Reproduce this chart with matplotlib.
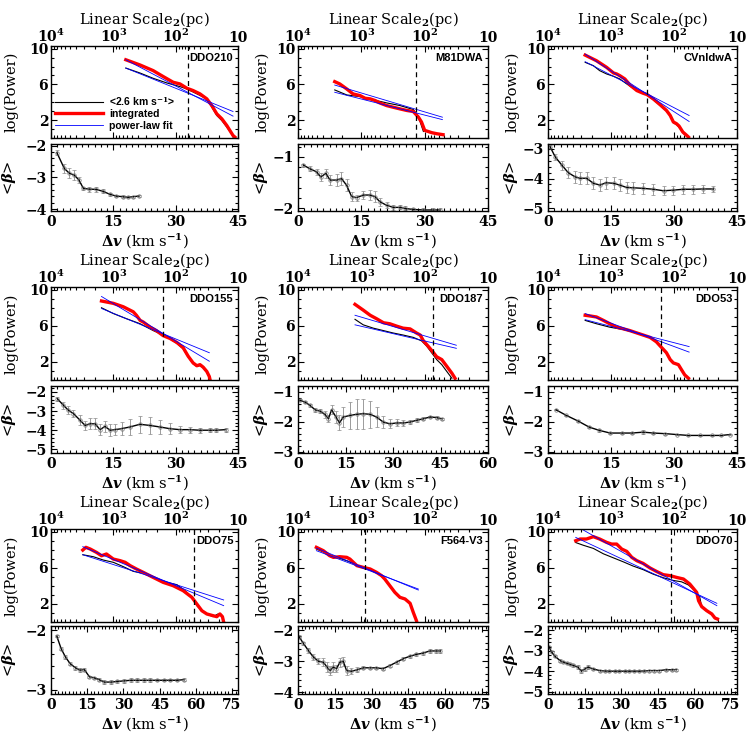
import numpy as np
import matplotlib
matplotlib.use('Agg')
import matplotlib.pyplot as plt
from matplotlib.lines import Line2D
from matplotlib.ticker import (MultipleLocator, AutoMinorLocator, FixedLocator,
                               FixedFormatter, LogLocator, NullFormatter)

plt.rcParams['font.family'] = 'DejaVu Serif'
plt.rcParams['font.weight'] = 'bold'
plt.rcParams['mathtext.fontset'] = 'custom'
plt.rcParams['mathtext.rm'] = 'DejaVu Serif:bold'
plt.rcParams['mathtext.it'] = 'DejaVu Serif:italic:bold'
plt.rcParams['mathtext.bf'] = 'DejaVu Serif:bold'
plt.rcParams['axes.linewidth'] = 1.0

# ---- data: top panels are log10(linear scale / pc) vs log(Power) ----
# DDO210
ddo210_red_lg = [2.80, 2.57, 2.36, 2.20, 2.04, 1.93, 1.82, 1.72, 1.61, 1.50, 1.42, 1.34, 1.26, 1.18, 1.13, 1.08, 1.05]
ddo210_red_p = [8.76, 8.17, 7.54, 6.88, 6.24, 6.05, 5.57, 5.31, 4.94, 4.38, 3.63, 2.70, 2.15, 1.40, 0.84, 0.28, 0.10]
ddo210_blk_lg = [2.80, 2.57, 2.36, 2.14, 1.93, 1.82, 1.66, 1.50, 1.42, 1.34, 1.26, 1.18, 1.10, 1.08]
ddo210_blk_p = [7.83, 7.27, 6.68, 6.16, 5.75, 5.49, 4.94, 4.38, 3.45, 2.52, 1.96, 1.22, 0.47, 0.10]
ddo210_fit_lg = [2.80, 1.08]
ddo210_fit_red = [8.76, 2.45]
ddo210_fit_blk = [7.83, 2.97]
ddo210_dash = 1.80
ddo210_dv = [1.4, 3.2, 4.4, 5.6, 6.7, 7.8, 9.2, 10.9, 12.5, 14.1, 15.7, 17.3, 18.5, 19.7, 21.1]
ddo210_beta = [-2.22, -2.72, -2.87, -2.93, -3.08, -3.35, -3.37, -3.38, -3.44, -3.53, -3.59, -3.61, -3.63, -3.61, -3.59]
ddo210_err = [0.08, 0.15, 0.15, 0.15, 0.10, 0.06, 0.08, 0.08, 0.06, 0.05, 0.04, 0.04, 0.03, 0.03, 0.02]

# M81DWA
m81dwa_red_lg = [3.42, 3.34, 3.23, 3.13, 3.02, 2.94, 2.86, 2.78, 2.71, 2.60, 2.50, 2.39, 2.28, 2.18, 2.10, 2.05, 2.00, 1.89, 1.81, 1.71]
m81dwa_red_p = [6.31, 6.05, 5.49, 4.93, 4.75, 4.45, 4.38, 4.19, 3.93, 3.63, 3.45, 3.26, 3.08, 2.97, 2.35, 1.79, 0.86, 0.60, 0.48, 0.37]
m81dwa_blk_lg = [3.42, 3.23, 3.02, 2.81, 2.60, 2.39, 2.18, 2.13, 2.07, 2.02]
m81dwa_blk_p = [5.38, 4.82, 4.63, 4.27, 3.93, 3.63, 3.19, 2.70, 1.78, 0.73]
m81dwa_fit_lg = [3.42, 1.72]
m81dwa_fit_red = [5.93, 2.33]
m81dwa_fit_blk = [5.12, 2.06]
m81dwa_dash = 2.13
m81dwa_dv = [1.3, 2.8, 4.4, 5.4, 6.6, 7.6, 9.2, 10.3, 11.5, 12.7, 13.9, 15.5, 17.0, 18.2, 19.4, 21.0, 22.6, 24.2, 25.3, 27.3, 29.7, 32.0, 33.6]
m81dwa_beta = [-1.16, -1.23, -1.29, -1.39, -1.32, -1.45, -1.45, -1.42, -1.55, -1.77, -1.79, -1.74, -1.74, -1.77, -1.87, -1.94, -1.98, -1.98, -2.00, -2.02, -2.03, -2.03, -2.03]
m81dwa_err = [0.03, 0.05, 0.06, 0.08, 0.08, 0.10, 0.12, 0.12, 0.12, 0.08, 0.06, 0.08, 0.10, 0.10, 0.08, 0.06, 0.05, 0.04, 0.04, 0.03, 0.03, 0.03, 0.03]

# CVnIdwA
cvn_red_lg = [3.41, 3.23, 3.07, 2.96, 2.91, 2.86, 2.78, 2.70, 2.59, 2.49, 2.43, 2.33, 2.22, 2.12, 2.06, 2.01, 1.96, 1.92, 1.86, 1.80, 1.77]
cvn_red_p = [9.28, 8.65, 7.91, 7.28, 7.17, 6.98, 6.61, 5.94, 5.31, 5.01, 4.87, 4.38, 3.72, 3.09, 2.52, 1.79, 1.60, 1.34, 0.67, 0.30, 0.10]
cvn_blk_lg = [3.41, 3.28, 3.18, 3.07, 2.96, 2.86, 2.75, 2.65, 2.54, 2.43, 2.33, 2.22, 2.12, 2.06, 2.01, 1.96, 1.90, 1.85, 1.80]
cvn_blk_p = [8.47, 8.10, 7.54, 7.17, 6.91, 6.61, 6.05, 5.57, 5.19, 4.87, 4.30, 3.65, 3.02, 2.45, 1.72, 1.50, 1.05, 0.50, 0.22]
cvn_fit_lg = [3.41, 1.76]
cvn_fit_red = [9.39, 1.85]
cvn_fit_blk = [8.54, 2.52]
cvn_dash = 2.43
cvn_dv = [0.5, 1.7, 3.3, 4.8, 6.4, 7.6, 9.2, 10.8, 12.4, 13.8, 15.6, 17.1, 18.7, 20.3, 22.7, 25.1, 27.5, 29.8, 32.2, 34.6, 37.0, 39.4]
cvn_beta = [-2.93, -3.27, -3.55, -3.80, -3.94, -3.99, -3.99, -4.16, -4.22, -4.14, -4.16, -4.22, -4.30, -4.31, -4.33, -4.36, -4.41, -4.39, -4.36, -4.36, -4.35, -4.35]
cvn_err = [0.05, 0.10, 0.15, 0.18, 0.20, 0.20, 0.20, 0.20, 0.20, 0.20, 0.20, 0.20, 0.20, 0.20, 0.18, 0.18, 0.15, 0.15, 0.15, 0.15, 0.12, 0.10]

# DDO155
ddo155_red_lg = [3.19, 3.00, 2.84, 2.68, 2.63, 2.57, 2.52, 2.41, 2.31, 2.20, 2.09, 1.98, 1.88, 1.80, 1.72, 1.66, 1.61, 1.56, 1.50, 1.46, 1.45]
ddo155_red_p = [8.75, 8.49, 8.11, 7.55, 7.17, 6.60, 6.42, 5.85, 5.47, 4.91, 4.60, 4.15, 3.58, 2.64, 1.89, 1.58, 1.70, 1.43, 0.94, 0.38, 0.08]
ddo155_blk_lg = [3.19, 3.00, 2.79, 2.57, 2.36, 2.20, 2.09, 1.98, 1.88, 1.80, 1.72, 1.66, 1.61, 1.56, 1.50, 1.46]
ddo155_blk_p = [8.00, 7.36, 6.79, 6.23, 5.47, 4.98, 4.55, 4.05, 3.45, 2.55, 1.80, 1.50, 1.60, 1.35, 0.85, 0.30]
ddo155_fit_lg = [3.19, 1.46]
ddo155_fit_red = [9.25, 2.08]
ddo155_fit_blk = [7.92, 3.02]
ddo155_dash = 2.21
ddo155_dv = [1.5, 3.0, 4.2, 5.4, 7.0, 8.2, 9.4, 10.6, 11.8, 13.0, 14.2, 15.4, 17.0, 19.0, 21.4, 23.8, 26.2, 28.6, 31.0, 33.4, 35.8, 38.2, 39.8, 42.0]
ddo155_beta = [-2.35, -2.70, -2.96, -3.13, -3.48, -3.75, -3.66, -3.66, -3.97, -3.80, -4.00, -3.97, -3.92, -3.83, -3.69, -3.75, -3.83, -3.92, -3.97, -3.97, -4.00, -4.00, -4.00, -3.97]
ddo155_err = [0.10, 0.20, 0.20, 0.20, 0.25, 0.25, 0.30, 0.30, 0.30, 0.30, 0.30, 0.30, 0.35, 0.40, 0.45, 0.45, 0.35, 0.30, 0.20, 0.15, 0.12, 0.10, 0.10, 0.10]

# DDO187
ddo187_red_lg = [3.10, 2.97, 2.86, 2.76, 2.65, 2.55, 2.44, 2.34, 2.23, 2.13, 2.07, 2.02, 1.94, 1.86, 1.81, 1.73, 1.65, 1.57, 1.52]
ddo187_red_p = [8.38, 7.74, 7.17, 6.79, 6.34, 6.23, 5.96, 5.74, 5.66, 5.21, 4.98, 4.34, 3.70, 3.02, 2.57, 2.26, 1.51, 0.75, 0.19]
ddo187_blk_lg = [3.10, 2.97, 2.81, 2.65, 2.50, 2.34, 2.18, 2.05, 1.97, 1.89, 1.81, 1.73, 1.65, 1.57]
ddo187_blk_p = [6.72, 6.11, 5.74, 5.47, 5.21, 4.98, 4.72, 4.34, 3.77, 3.02, 2.26, 1.70, 0.94, 0.19]
ddo187_fit_lg = [3.10, 1.50]
ddo187_fit_red = [7.17, 3.85]
ddo187_fit_blk = [6.11, 3.51]
ddo187_dash = 1.87
ddo187_dv = [0.6, 2.2, 3.8, 5.4, 6.9, 8.5, 9.6, 10.6, 12.0, 13.1, 14.3, 16.4, 18.5, 20.6, 22.7, 24.8, 26.9, 29.0, 31.2, 33.3, 35.4, 37.5, 39.6, 41.7, 43.8, 45.4]
ddo187_beta = [-1.28, -1.34, -1.45, -1.60, -1.64, -1.75, -1.90, -1.60, -1.84, -2.04, -1.84, -1.79, -1.75, -1.73, -1.75, -1.84, -2.01, -2.07, -2.04, -2.04, -2.01, -1.95, -1.90, -1.84, -1.86, -1.90]
ddo187_err = [0.03, 0.04, 0.05, 0.06, 0.08, 0.12, 0.12, 0.15, 0.20, 0.25, 0.35, 0.45, 0.50, 0.50, 0.45, 0.35, 0.20, 0.15, 0.12, 0.10, 0.08, 0.06, 0.05, 0.04, 0.04, 0.03]

# DDO53
ddo53_red_lg = [3.41, 3.33, 3.23, 3.12, 3.02, 2.91, 2.80, 2.70, 2.59, 2.49, 2.38, 2.28, 2.22, 2.17, 2.12, 2.06, 2.01, 1.93, 1.88, 1.83, 1.77]
ddo53_red_p = [7.17, 7.09, 6.98, 6.60, 6.23, 5.85, 5.66, 5.47, 5.21, 4.98, 4.72, 4.23, 3.77, 3.40, 3.02, 2.26, 1.89, 1.70, 1.13, 0.57, 0.19]
ddo53_blk_lg = [3.41, 3.23, 3.02, 2.80, 2.59, 2.38, 2.28, 2.22, 2.17, 2.12, 2.06, 2.01, 1.93, 1.88, 1.83]
ddo53_blk_p = [6.60, 6.23, 5.85, 5.58, 5.21, 4.72, 4.20, 3.72, 3.35, 2.95, 2.20, 1.85, 1.65, 1.05, 0.50]
ddo53_fit_lg = [3.41, 1.76]
ddo53_fit_red = [7.36, 3.09]
ddo53_fit_blk = [6.68, 3.70]
ddo53_dash = 2.21
ddo53_dv = [1.9, 4.4, 7.2, 9.8, 12.2, 14.8, 17.5, 19.9, 22.7, 25.1, 27.9, 30.6, 33.4, 36.2, 39.0, 41.3, 43.3]
ddo53_beta = [-1.60, -1.79, -1.98, -2.18, -2.29, -2.38, -2.38, -2.38, -2.35, -2.38, -2.40, -2.43, -2.46, -2.46, -2.46, -2.46, -2.43]
ddo53_err = [0.02, 0.03, 0.03, 0.04, 0.05, 0.03, 0.03, 0.04, 0.07, 0.04, 0.03, 0.02, 0.02, 0.02, 0.02, 0.02, 0.02]

# DDO75
ddo75_red_lg = [3.49, 3.44, 3.37, 3.27, 3.19, 3.11, 3.00, 2.89, 2.81, 2.73, 2.63, 2.52, 2.36, 2.20, 2.04, 1.88, 1.74, 1.66, 1.58, 1.50, 1.40, 1.34, 1.29, 1.25, 1.23]
ddo75_red_p = [7.97, 8.27, 8.08, 7.71, 7.34, 7.53, 6.97, 6.79, 6.61, 6.24, 5.87, 5.50, 4.94, 4.39, 4.02, 3.47, 2.73, 1.99, 1.25, 0.89, 0.70, 0.59, 0.89, 0.59, 0.0]
ddo75_blk_lg = [3.49, 3.32, 3.16, 3.00, 2.84, 2.68, 2.52, 2.36, 2.14, 1.98, 1.85, 1.74, 1.66, 1.58, 1.50, 1.40, 1.32, 1.25, 1.23]
ddo75_blk_p = [7.45, 7.23, 6.86, 6.61, 6.13, 5.61, 5.39, 4.94, 4.39, 4.13, 3.47, 2.73, 1.81, 1.25, 0.89, 0.59, 0.89, 0.70, 0.0]
ddo75_fit_lg = [3.49, 1.23]
ddo75_fit_red = [8.34, 1.81]
ddo75_fit_blk = [7.45, 2.44]
ddo75_dash = 1.71
ddo75_dv = [2.4, 4.2, 6.0, 7.9, 10.1, 12.0, 13.8, 15.9, 18.0, 20.0, 22.1, 24.9, 27.5, 30.2, 33.0, 35.8, 38.5, 41.2, 44.0, 46.7, 49.5, 52.2, 55.0]
ddo75_beta = [-2.10, -2.31, -2.45, -2.56, -2.63, -2.67, -2.66, -2.78, -2.80, -2.83, -2.87, -2.87, -2.86, -2.85, -2.84, -2.84, -2.84, -2.84, -2.84, -2.84, -2.84, -2.84, -2.83]
ddo75_err = [0.02, 0.03, 0.03, 0.03, 0.03, 0.03, 0.03, 0.02, 0.02, 0.03, 0.03, 0.03, 0.03, 0.03, 0.03, 0.03, 0.03, 0.03, 0.02, 0.02, 0.02, 0.02, 0.02]

# F564-V3
f564_red_lg = [3.71, 3.60, 3.50, 3.44, 3.34, 3.23, 3.18, 3.07, 2.97, 2.86, 2.76, 2.68, 2.63, 2.55, 2.47, 2.39, 2.31, 2.23, 2.18, 2.13]
f564_red_p = [8.27, 7.90, 7.34, 7.16, 7.23, 7.16, 6.97, 6.24, 6.05, 5.87, 5.50, 5.13, 4.76, 4.02, 3.28, 2.73, 2.55, 2.07, 1.07, 0.15]
f564_blk_lg = [3.71, 3.60, 3.50, 3.34, 3.23, 3.07, 2.97, 2.86, 2.76, 2.68, 2.63, 2.55, 2.47, 2.39, 2.31, 2.23, 2.18, 2.13]
f564_blk_p = [8.08, 7.75, 7.45, 7.05, 6.79, 6.30, 6.05, 5.80, 5.45, 5.05, 4.70, 3.95, 3.22, 2.68, 2.50, 2.00, 1.00, 0.10]
f564_fit_lg = [3.71, 2.10]
f564_fit_red = [8.19, 3.54]
f564_fit_blk = [7.90, 3.65]
f564_dash = 2.94
f564_dv = [0.5, 2.2, 4.2, 6.2, 8.3, 10.3, 11.9, 13.0, 14.4, 15.7, 17.1, 18.5, 19.8, 21.8, 23.9, 26.6, 29.3, 32.0, 34.7, 37.4, 40.2, 42.9, 45.6, 48.3, 51.0, 53.7, 56.4, 58.1]
f564_beta = [-2.22, -2.43, -2.65, -2.86, -3.00, -3.03, -3.19, -3.30, -3.19, -3.24, -3.03, -3.00, -3.30, -3.32, -3.28, -3.21, -3.21, -3.21, -3.24, -3.14, -3.03, -2.92, -2.84, -2.78, -2.74, -2.67, -2.67, -2.67]
f564_err = [0.05, 0.06, 0.08, 0.10, 0.10, 0.12, 0.15, 0.15, 0.15, 0.12, 0.15, 0.15, 0.15, 0.10, 0.08, 0.05, 0.04, 0.04, 0.04, 0.04, 0.05, 0.05, 0.05, 0.05, 0.05, 0.05, 0.05, 0.05]

# DDO70
ddo70_red_lg = [3.56, 3.49, 3.39, 3.28, 3.18, 3.07, 2.99, 2.91, 2.83, 2.75, 2.67, 2.59, 2.49, 2.38, 2.28, 2.17, 2.06, 1.96, 1.85, 1.75, 1.64, 1.61, 1.56, 1.48, 1.40, 1.35, 1.31]
ddo70_red_p = [9.00, 9.19, 9.19, 9.45, 9.19, 8.82, 8.63, 8.63, 8.08, 7.82, 7.16, 6.79, 6.49, 5.98, 5.61, 5.24, 5.13, 4.94, 4.76, 4.21, 3.28, 2.36, 1.70, 1.25, 0.89, 0.44, 0.33]
ddo70_blk_lg = [3.56, 3.44, 3.28, 3.12, 2.96, 2.80, 2.65, 2.49, 2.33, 2.17, 2.01, 1.88, 1.77, 1.67, 1.59, 1.56, 1.48, 1.40, 1.35, 1.31]
ddo70_blk_p = [8.80, 8.50, 8.15, 7.55, 7.10, 6.65, 6.20, 5.80, 5.30, 4.90, 4.60, 4.45, 4.10, 3.47, 2.73, 1.65, 1.20, 0.85, 0.40, 0.30]
ddo70_fit_lg = [3.56, 1.32]
ddo70_fit_red = [10.66, 1.81]
ddo70_fit_blk = [9.37, 2.07]
ddo70_dash = 2.04
ddo70_dv = [0.5, 1.5, 2.9, 4.9, 6.2, 7.6, 9.0, 10.3, 12.3, 13.7, 15.1, 16.4, 18.5, 21.2, 23.2, 25.2, 27.3, 29.3, 31.4, 33.4, 35.4, 37.4, 39.5, 41.5, 43.6, 45.6, 48.3, 51.0, 52.5]
ddo70_beta = [-2.82, -3.07, -3.28, -3.48, -3.55, -3.61, -3.67, -3.72, -3.80, -4.00, -3.89, -3.80, -3.89, -3.97, -3.99, -4.00, -4.00, -4.00, -4.00, -4.00, -4.00, -4.00, -3.99, -3.97, -3.97, -3.97, -3.93, -3.93, -3.92]
ddo70_err = [0.04, 0.05, 0.05, 0.05, 0.05, 0.05, 0.05, 0.06, 0.08, 0.10, 0.10, 0.08, 0.06, 0.05, 0.05, 0.05, 0.05, 0.05, 0.05, 0.05, 0.05, 0.05, 0.05, 0.05, 0.05, 0.05, 0.05, 0.05, 0.05]

names = ['DDO210', 'M81DWA', 'CVnIdwA', 'DDO155', 'DDO187', 'DDO53', 'DDO75', 'F564-V3', 'DDO70']
dv_max = [45, 45, 45, 45, 60, 45, 77.5, 77.5, 77.5]
beta_lims = [(-4.06, -1.95), (-2.05, -0.75), (-5.09, -2.84), (-5.19, -1.69), (-3.05, -0.80),
             (-3.05, -0.80), (-3.07, -1.93), (-4.05, -1.87), (-5.11, -1.80)]

panels = [
    (ddo210_red_lg, ddo210_red_p, ddo210_blk_lg, ddo210_blk_p, ddo210_fit_lg, ddo210_fit_red, ddo210_fit_blk, ddo210_dash, ddo210_dv, ddo210_beta, ddo210_err),
    (m81dwa_red_lg, m81dwa_red_p, m81dwa_blk_lg, m81dwa_blk_p, m81dwa_fit_lg, m81dwa_fit_red, m81dwa_fit_blk, m81dwa_dash, m81dwa_dv, m81dwa_beta, m81dwa_err),
    (cvn_red_lg, cvn_red_p, cvn_blk_lg, cvn_blk_p, cvn_fit_lg, cvn_fit_red, cvn_fit_blk, cvn_dash, cvn_dv, cvn_beta, cvn_err),
    (ddo155_red_lg, ddo155_red_p, ddo155_blk_lg, ddo155_blk_p, ddo155_fit_lg, ddo155_fit_red, ddo155_fit_blk, ddo155_dash, ddo155_dv, ddo155_beta, ddo155_err),
    (ddo187_red_lg, ddo187_red_p, ddo187_blk_lg, ddo187_blk_p, ddo187_fit_lg, ddo187_fit_red, ddo187_fit_blk, ddo187_dash, ddo187_dv, ddo187_beta, ddo187_err),
    (ddo53_red_lg, ddo53_red_p, ddo53_blk_lg, ddo53_blk_p, ddo53_fit_lg, ddo53_fit_red, ddo53_fit_blk, ddo53_dash, ddo53_dv, ddo53_beta, ddo53_err),
    (ddo75_red_lg, ddo75_red_p, ddo75_blk_lg, ddo75_blk_p, ddo75_fit_lg, ddo75_fit_red, ddo75_fit_blk, ddo75_dash, ddo75_dv, ddo75_beta, ddo75_err),
    (f564_red_lg, f564_red_p, f564_blk_lg, f564_blk_p, f564_fit_lg, f564_fit_red, f564_fit_blk, f564_dash, f564_dv, f564_beta, f564_err),
    (ddo70_red_lg, ddo70_red_p, ddo70_blk_lg, ddo70_blk_p, ddo70_fit_lg, ddo70_fit_red, ddo70_fit_blk, ddo70_dash, ddo70_dv, ddo70_beta, ddo70_err),
]

# ---- layout (pixels of a 747 px figure) ----
S = 747.0
cols = [(51, 238), (298, 488), (548, 737)]
rows_top = [(46, 138), (287, 380), (529, 622)]
rows_bot = [(144, 211), (386, 453), (626, 694)]
ylab_x = [-0.175, -0.15, -0.15]

fig = plt.figure(figsize=(7.47, 7.47), dpi=100)


def box(xs, ys):
    return [xs[0] / S, 1 - ys[1] / S, (xs[1] - xs[0]) / S, (ys[1] - ys[0]) / S]


tick_kw = dict(direction='in', top=True, right=True, labelsize=10, width=0.8)
lab_fs = 10.5

for i, (rlg, rp, blg, bp, flg, fr, fb, dash, dv, beta, err) in enumerate(panels):
    r, c = divmod(i, 3)

    # upper panel: power spectrum vs linear scale
    ax = fig.add_axes(box(cols[c], rows_top[r]))
    ax.plot(10 ** np.array(blg), bp, color='k', lw=0.8)
    ax.plot(10 ** np.array(rlg), rp, color='red', lw=2.4)
    ax.plot(10 ** np.array(flg), fb, color='blue', lw=0.6)
    ax.plot(10 ** np.array(flg), fr, color='blue', lw=0.6)
    ax.axvline(10 ** dash, color='k', lw=0.9, ls=(0, (4, 3)))
    ax.set_xscale('log')
    ax.set_xlim(1e4, 10)
    ax.set_ylim(0, 10.3)
    ax.xaxis.set_major_locator(FixedLocator([1e4, 1e3, 1e2, 10]))
    ax.xaxis.set_major_formatter(FixedFormatter(['$10^4$', '$10^3$', '$10^2$', '10']))
    ax.xaxis.set_minor_locator(LogLocator(base=10, subs=range(2, 10)))
    ax.xaxis.set_minor_formatter(NullFormatter())
    ax.yaxis.set_major_locator(FixedLocator([2, 6, 10]))
    ax.yaxis.set_minor_locator(MultipleLocator(1))
    ax.tick_params(which='both', labelbottom=False, labeltop=True, **tick_kw)
    ax.tick_params(which='major', length=4, pad=2)
    ax.tick_params(axis='x', which='major', pad=1)
    ax.tick_params(which='minor', length=2)
    ax.xaxis.set_label_position('top')
    ax.set_xlabel('Linear Scale$_2$(pc)', fontsize=lab_fs, labelpad=2.5)
    ax.set_ylabel('log(Power)', fontsize=lab_fs)
    ax.yaxis.set_label_coords(ylab_x[c], 0.5)
    ax.text(0.975, 0.87, names[i], transform=ax.transAxes, ha='right', va='center',
            fontsize=8, family='Liberation Sans', weight='bold')

    if i == 0:
        handles = [Line2D([], [], color='k', lw=0.8),
                   Line2D([], [], color='red', lw=2.4),
                   Line2D([], [], color='blue', lw=0.6)]
        labels = ['<2.6 km s$^{-1}$>', 'integrated', 'power-law fit']
        ax.legend(handles, labels, loc='lower left', bbox_to_anchor=(0.02, 0.08),
                  frameon=False, borderpad=0, borderaxespad=0, handlelength=4.6,
                  handletextpad=0.6, labelspacing=0.15,
                  prop=dict(family='Liberation Sans', weight='bold', size=7.5))

    # lower panel: mean beta vs velocity width
    bx = fig.add_axes(box(cols[c], rows_bot[r]))
    bx.errorbar(dv, beta, yerr=err, fmt='o', ms=2.5, mfc='none', mec='0.45', mew=0.5,
                ecolor='0.55', elinewidth=0.6, capsize=1.5, capthick=0.6)
    bx.plot(dv, beta, color='k', lw=1.0)
    bx.set_xlim(0, dv_max[i])
    bx.set_ylim(*beta_lims[i])
    bx.xaxis.set_major_locator(MultipleLocator(15))
    bx.xaxis.set_minor_locator(AutoMinorLocator(10))
    bx.yaxis.set_major_locator(MultipleLocator(1))
    bx.yaxis.set_minor_locator(AutoMinorLocator(5))
    bx.tick_params(which='both', **tick_kw)
    bx.tick_params(which='major', length=4, pad=3)
    bx.tick_params(which='minor', length=2)
    bx.set_xlabel(r'$\Delta v$ (km s$^{-1}$)', fontsize=lab_fs, labelpad=1)
    bx.set_ylabel(r'<$\beta$>', fontsize=lab_fs)
    bx.yaxis.set_label_coords(ylab_x[c], 0.5)

fig.savefig('out.png', dpi=100)
